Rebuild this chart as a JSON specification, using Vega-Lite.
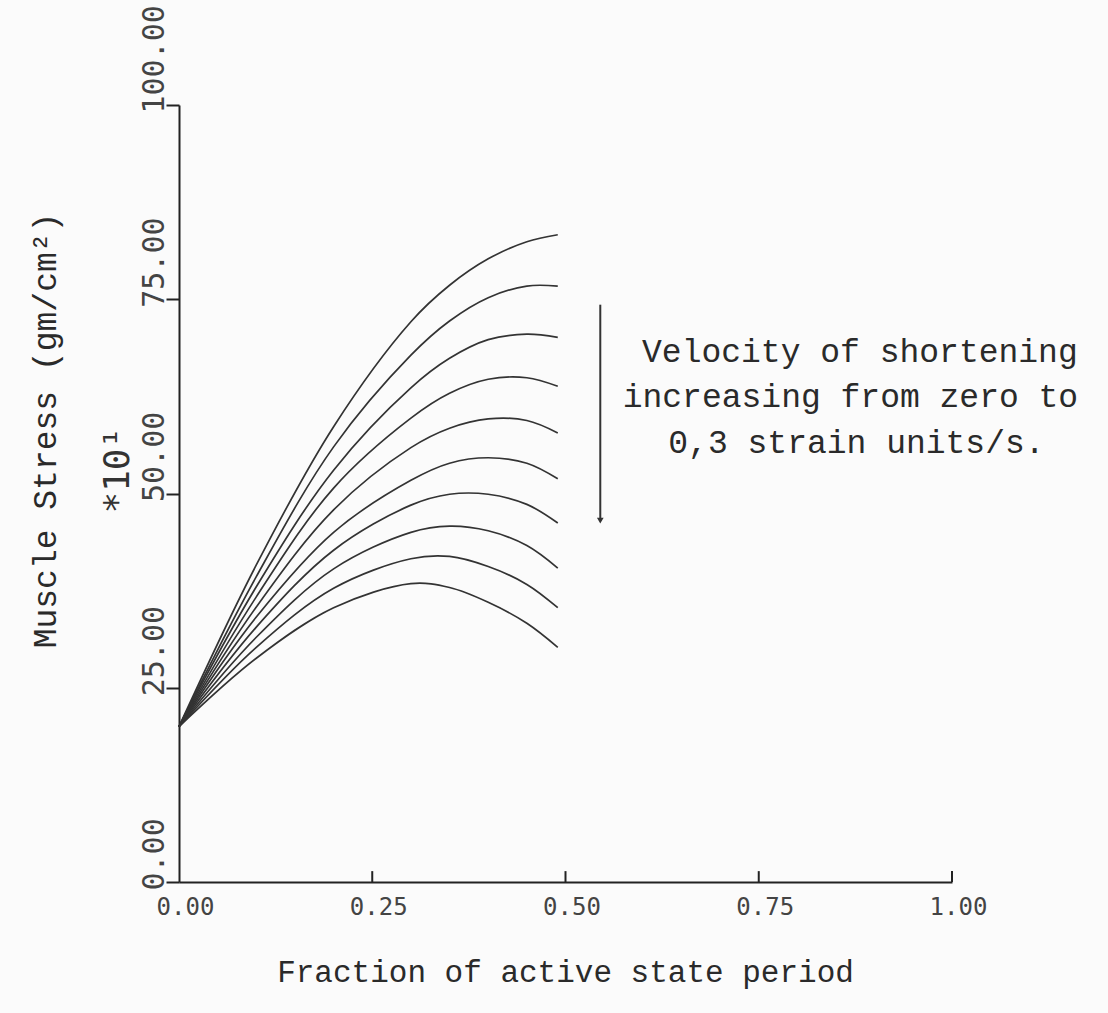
{
  "$schema": "https://vega.github.io/schema/vega-lite/v6.json",
  "width": 773,
  "height": 777,
  "autosize": {"type": "none"},
  "padding": {"left": 179, "top": 105, "right": 156, "bottom": 131},
  "background": "#fbfbfb",
  "config": {"view": {"stroke": null}, "axis": {"grid": false}},
  "datasets": {
    "curves": [
      {"curve": 1, "x": 0, "y": 20}, {"curve": 1, "x": 0.1, "y": 40.8}, {"curve": 1, "x": 0.2, "y": 58.6}, {"curve": 1, "x": 0.3, "y": 72.1}, {"curve": 1, "x": 0.35, "y": 76.8}, {"curve": 1, "x": 0.4, "y": 80.2}, {"curve": 1, "x": 0.45, "y": 82.4}, {"curve": 1, "x": 0.49, "y": 83.3},
      {"curve": 2, "x": 0, "y": 20}, {"curve": 2, "x": 0.1, "y": 39.3}, {"curve": 2, "x": 0.2, "y": 56.0}, {"curve": 2, "x": 0.3, "y": 67.8}, {"curve": 2, "x": 0.35, "y": 72.2}, {"curve": 2, "x": 0.4, "y": 75.2}, {"curve": 2, "x": 0.45, "y": 76.7}, {"curve": 2, "x": 0.49, "y": 76.7},
      {"curve": 3, "x": 0, "y": 20}, {"curve": 3, "x": 0.1, "y": 38.0}, {"curve": 3, "x": 0.2, "y": 53.0}, {"curve": 3, "x": 0.3, "y": 63.6}, {"curve": 3, "x": 0.35, "y": 67.4}, {"curve": 3, "x": 0.4, "y": 69.8}, {"curve": 3, "x": 0.45, "y": 70.5}, {"curve": 3, "x": 0.49, "y": 70.1},
      {"curve": 4, "x": 0, "y": 20}, {"curve": 4, "x": 0.1, "y": 36.7}, {"curve": 4, "x": 0.2, "y": 50.7}, {"curve": 4, "x": 0.3, "y": 59.7}, {"curve": 4, "x": 0.35, "y": 62.9}, {"curve": 4, "x": 0.4, "y": 64.7}, {"curve": 4, "x": 0.45, "y": 64.9}, {"curve": 4, "x": 0.49, "y": 63.8},
      {"curve": 5, "x": 0, "y": 20}, {"curve": 5, "x": 0.1, "y": 35.4}, {"curve": 5, "x": 0.2, "y": 47.9}, {"curve": 5, "x": 0.3, "y": 55.9}, {"curve": 5, "x": 0.35, "y": 58.4}, {"curve": 5, "x": 0.4, "y": 59.6}, {"curve": 5, "x": 0.45, "y": 59.4}, {"curve": 5, "x": 0.49, "y": 57.8},
      {"curve": 6, "x": 0, "y": 20}, {"curve": 6, "x": 0.1, "y": 34.1}, {"curve": 6, "x": 0.2, "y": 45.0}, {"curve": 6, "x": 0.3, "y": 51.7}, {"curve": 6, "x": 0.35, "y": 53.9}, {"curve": 6, "x": 0.4, "y": 54.6}, {"curve": 6, "x": 0.45, "y": 53.9}, {"curve": 6, "x": 0.49, "y": 51.9},
      {"curve": 7, "x": 0, "y": 20}, {"curve": 7, "x": 0.1, "y": 32.8}, {"curve": 7, "x": 0.2, "y": 42.7}, {"curve": 7, "x": 0.3, "y": 48.5}, {"curve": 7, "x": 0.35, "y": 49.9}, {"curve": 7, "x": 0.4, "y": 49.9}, {"curve": 7, "x": 0.45, "y": 48.6}, {"curve": 7, "x": 0.49, "y": 46.2},
      {"curve": 8, "x": 0, "y": 20}, {"curve": 8, "x": 0.1, "y": 31.5}, {"curve": 8, "x": 0.2, "y": 40.3}, {"curve": 8, "x": 0.3, "y": 45.0}, {"curve": 8, "x": 0.35, "y": 45.8}, {"curve": 8, "x": 0.4, "y": 45.2}, {"curve": 8, "x": 0.45, "y": 43.3}, {"curve": 8, "x": 0.49, "y": 40.4},
      {"curve": 9, "x": 0, "y": 20}, {"curve": 9, "x": 0.1, "y": 30.2}, {"curve": 9, "x": 0.2, "y": 37.8}, {"curve": 9, "x": 0.3, "y": 41.6}, {"curve": 9, "x": 0.35, "y": 41.9}, {"curve": 9, "x": 0.4, "y": 40.6}, {"curve": 9, "x": 0.45, "y": 38.3}, {"curve": 9, "x": 0.49, "y": 35.3},
      {"curve": 10, "x": 0, "y": 20}, {"curve": 10, "x": 0.1, "y": 28.8}, {"curve": 10, "x": 0.2, "y": 35.3}, {"curve": 10, "x": 0.3, "y": 38.4}, {"curve": 10, "x": 0.35, "y": 37.9}, {"curve": 10, "x": 0.4, "y": 36.0}, {"curve": 10, "x": 0.45, "y": 33.3}, {"curve": 10, "x": 0.49, "y": 30.2}
    ],
    "xticks": [
      {"x": 0.25, "y0": 0, "y1": 1.4}, {"x": 0.5, "y0": 0, "y1": 1.4}, {"x": 0.75, "y0": 0, "y1": 1.4}, {"x": 1.0, "y0": 0, "y1": 1.4}
    ],
    "arrow": [{"x": 0.545, "y": 74.3, "y2": 46.5}],
    "arrowhead": [{"x": 0.545, "y": 46.5}],
    "notes": [
      {"text": "Velocity of shortening", "x": 0.599, "y": 68.2},
      {"text": "increasing from zero to", "x": 0.574, "y": 62.4},
      {"text": "0,3 strain units/s.", "x": 0.633, "y": 56.5}
    ],
    "mult": [{"text": "*10¹", "x": -0.079, "y": 53}]
  },
  "layer": [
    {
      "data": {"name": "curves"},
      "mark": {"type": "line", "interpolate": "catmull-rom", "stroke": "#333", "strokeWidth": 1.7},
      "encoding": {
        "x": {
          "field": "x", "type": "quantitative",
          "scale": {"domain": [0, 1], "nice": false, "zero": false},
          "axis": {
            "values": [0, 0.25, 0.5, 0.75, 1], "format": ".2f",
            "ticks": false, "tickSize": 0,
            "domainColor": "#222", "domainWidth": 2,
            "labelFont": "DejaVu Sans Mono", "labelFontSize": 24, "labelColor": "#444",
            "labelPadding": 13, "labelFlush": false, "labelOverlap": false, "labelOffset": 6,
            "title": "Fraction of active state period",
            "titleFont": "Liberation Mono", "titleFontSize": 31, "titleFontWeight": "normal", "titleColor": "#2a2a2a",
            "titleX": 386, "titleY": 90, "titleAlign": "center", "titleBaseline": "middle"
          }
        },
        "y": {
          "field": "y", "type": "quantitative",
          "scale": {"domain": [0, 100], "nice": false},
          "axis": {
            "values": [0, 25, 50, 75, 100], "format": ".2f",
            "tickSize": 13, "tickColor": "#222", "tickWidth": 2,
            "domainColor": "#222", "domainWidth": 2,
            "labelFont": "DejaVu Sans Mono", "labelFontSize": 30, "labelColor": "#444",
            "labelAngle": 270, "labelAlign": "left", "labelBaseline": "middle",
            "labelOffset": 8, "labelPadding": 12, "labelFlush": false, "labelOverlap": false, "labelBound": false,
            "title": "Muscle Stress (gm/cm²)",
            "titleFont": "Liberation Mono", "titleFontSize": 33, "titleFontWeight": "normal", "titleColor": "#2a2a2a",
            "titleAngle": 270, "titleX": -134, "titleY": 325, "titleAlign": "center", "titleBaseline": "middle"
          }
        },
        "detail": {"field": "curve", "type": "nominal"}
      }
    },
    {
      "data": {"name": "xticks"},
      "mark": {"type": "rule", "stroke": "#222", "strokeWidth": 2},
      "encoding": {
        "x": {"field": "x", "type": "quantitative"},
        "y": {"field": "y0", "type": "quantitative"},
        "y2": {"field": "y1"}
      }
    },
    {
      "data": {"name": "arrow"},
      "mark": {"type": "rule", "stroke": "#333", "strokeWidth": 2},
      "encoding": {
        "x": {"field": "x", "type": "quantitative"},
        "y": {"field": "y", "type": "quantitative"},
        "y2": {"field": "y2"}
      }
    },
    {
      "data": {"name": "arrowhead"},
      "mark": {"type": "point", "shape": "triangle-down", "filled": true, "size": 45, "color": "#333", "opacity": 1},
      "encoding": {
        "x": {"field": "x", "type": "quantitative"},
        "y": {"field": "y", "type": "quantitative"}
      }
    },
    {
      "data": {"name": "notes"},
      "mark": {"type": "text", "align": "left", "baseline": "middle", "font": "Liberation Mono", "fontSize": 33, "color": "#2a2a2a"},
      "encoding": {
        "x": {"field": "x", "type": "quantitative"},
        "y": {"field": "y", "type": "quantitative"},
        "text": {"field": "text"}
      }
    },
    {
      "data": {"name": "mult"},
      "mark": {"type": "text", "align": "center", "baseline": "middle", "angle": 270, "font": "DejaVu Sans Mono", "fontSize": 36, "color": "#333"},
      "encoding": {
        "x": {"field": "x", "type": "quantitative"},
        "y": {"field": "y", "type": "quantitative"},
        "text": {"field": "text"}
      }
    }
  ]
}
